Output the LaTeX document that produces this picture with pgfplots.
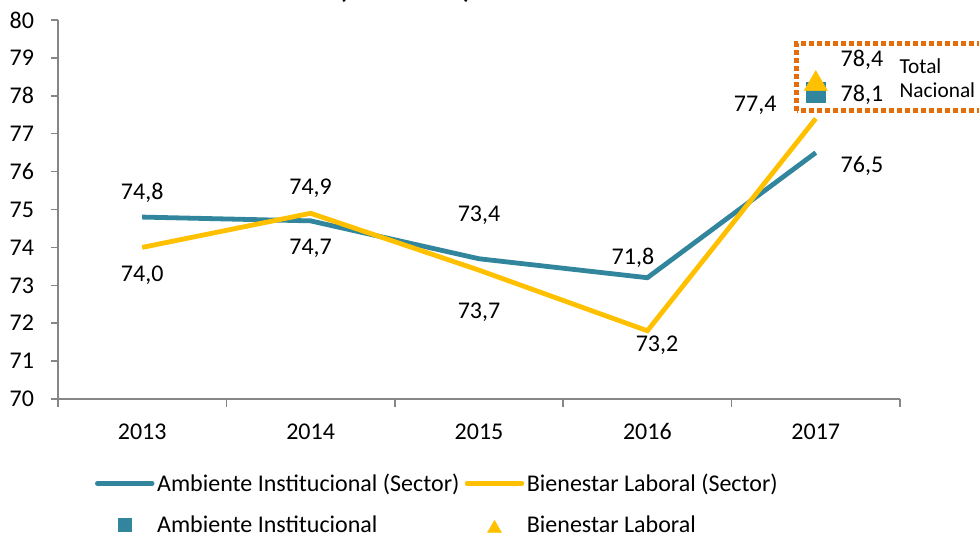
\documentclass[border=0pt]{standalone}
\usepackage{pgfplots}
\pgfplotsset{compat=1.18}
\usepackage{fontspec}
\setmainfont{Carlito}

\definecolor{aiteal}{HTML}{31859C}
\definecolor{blyellow}{HTML}{FFC000}
\definecolor{boxorange}{HTML}{E46C0A}
\definecolor{axgray}{HTML}{868686}
\newcommand\fs{\fontsize{18}{21}\selectfont}

\pgfplotsset{
  linelegend/.style={legend image code/.code={\draw[##1, line cap=round] (0pt,0pt) -- (41pt,0pt);}},
  marklegend/.style={legend image code/.code={\draw[##1, mark size=#1] plot coordinates {(20.5pt,0pt)};}},
}

\begin{document}
\begin{tikzpicture}
\path[use as bounding box] (-43.5pt,-105pt) rectangle (690.75pt,299.25pt);
\begin{axis}[
  at={(0pt,0pt)}, anchor=south west,
  scale only axis, width=631.5pt, height=284.25pt,
  xmin=-0.5, xmax=4.5, ymin=70, ymax=80,
  axis lines=left,
  axis line style={axgray, line width=1.1pt, -},
  xtick={0,1,2,3,4},
  xticklabels={2013,2014,2015,2016,2017},
  minor xtick={-0.5,0.5,1.5,2.5,3.5,4.5},
  ytick={70,71,...,80},
  tick align=outside,
  major tick length=5pt, minor tick length=6pt,
  every major x tick/.append style={draw=none},
  every minor x tick/.append style={axgray, line width=1.1pt},
  every major y tick/.append style={axgray, line width=1.1pt},
  tick label style={font=\fs, black},
  /pgf/number format/assume math mode=true,
  xticklabel style={yshift=-10pt},
  yticklabel style={xshift=-9.5pt},
  clip=false,
  legend columns=2,
  legend cell align=left,
  legend style={draw=none, fill=none, font=\fs,
    at={(0.451,-0.277)}, anchor=center,
    /tikz/every even column/.append style={column sep=2pt},
    row sep=13pt},
]
\addplot[aiteal, line width=3.6pt, linelegend] coordinates {
  (0,74.8)(1,74.7)(2,73.7)(3,73.2)(4,76.5)
};
\addlegendentry{Ambiente Institucional (Sector)}
\addplot[blyellow, line width=3.6pt, linelegend] coordinates {
  (0,74.0)(1,74.9)(2,73.4)(3,71.8)(4,77.4)
};
\addlegendentry{Bienestar Laboral (Sector)}
\addplot[only marks, mark=square*, mark size=7.4pt, aiteal, marklegend={5pt}] coordinates {
  (4,78.1)
};
\addlegendentry{Ambiente Institucional}
\addplot[only marks, mark=triangle*, mark size=10pt, blyellow,
  mark options={yshift=-2.5pt}, marklegend={6pt}] coordinates {
  (4,78.4)
};
\addlegendentry{Bienestar Laboral}

% value labels as placed in the original
\node[font=\fs] at (axis cs:0,75.44) {74,8};
\node[font=\fs] at (axis cs:0,73.27) {74,0};
\node[font=\fs] at (axis cs:1,75.57) {74,9};
\node[font=\fs] at (axis cs:1,73.98) {74,7};
\node[font=\fs] at (axis cs:2,74.85) {73,4};
\node[font=\fs] at (axis cs:2,72.30) {73,7};
\node[font=\fs] at (axis cs:2.914,73.72) {71,8};
\node[font=\fs] at (axis cs:3.057,71.42) {73,2};
\node[font=\fs] at (axis cs:3.64,77.76) {77,4};
\node[font=\fs] at (axis cs:4.274,76.15) {76,5};
\node[font=\fs] at (axis cs:4.274,78.94) {78,4};
\node[font=\fs] at (axis cs:4.274,78.02) {78,1};
\node[font=\fontsize{16}{18}\selectfont, anchor=west] at (axis cs:4.47,78.79) {Total};
\node[font=\fontsize{16}{18}\selectfont, anchor=west] at (axis cs:4.47,78.15) {Nacional};
\draw[boxorange, line width=3.75pt, dash pattern=on 3.75pt off 2.25pt]
  (axis cs:3.888,77.6) rectangle (axis cs:5.2,79.39);
\end{axis}
\node[font=\bfseries\fontsize{20}{22}\selectfont, anchor=base] at (260.25pt,300pt) {(2013-2017)};
\end{tikzpicture}
\end{document}
